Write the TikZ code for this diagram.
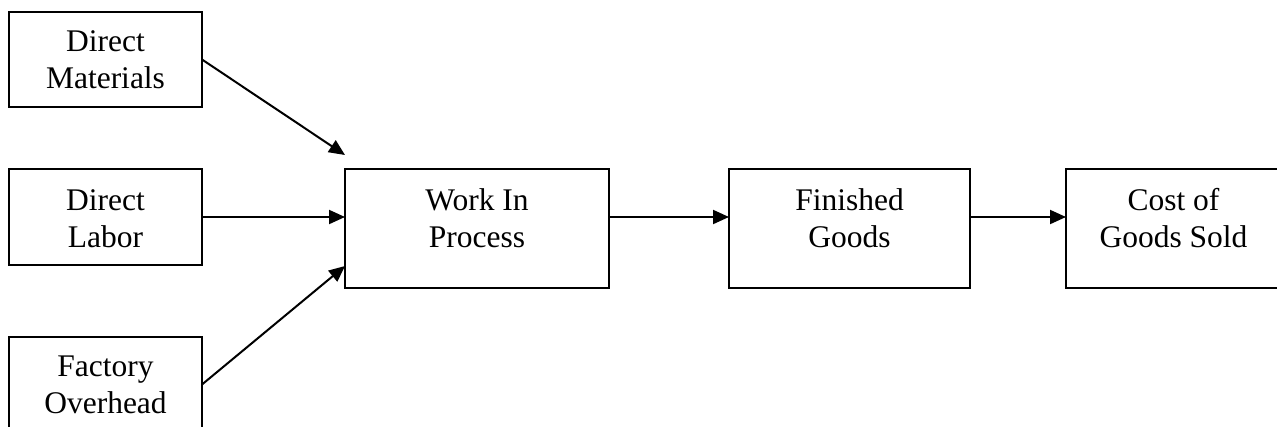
\documentclass[tikz,border=0pt]{standalone}
\usepackage{fontspec}
\setmainfont{Liberation Serif}
\usetikzlibrary{arrows.meta,calc}
\begin{document}
\begin{tikzpicture}[x=1pt,y=-1pt,
  box/.style={draw=black,line width=2pt,rectangle,inner sep=0pt,outer sep=0pt},
  lbl/.style={inner sep=0pt,outer sep=0pt,align=center,anchor=base,
    font=\fontsize{31.5}{37}\selectfont},
  conn/.style={line width=2pt,-{Triangle[length=16pt,width=14pt]}}]
\useasboundingbox (0,0) rectangle (1277,426);
\clip (0,0) rectangle (1277,426);
\node[box,minimum width=193pt,minimum height=95pt] (dm) at (105.5,59.5) {};
\node[box,minimum width=193pt,minimum height=96pt] (dl) at (105.5,217) {};
\node[box,minimum width=193pt,minimum height=96pt] (fo) at (105.5,384.5) {};
\node[box,minimum width=264pt,minimum height=119pt] (wip) at (477,228.5) {};
\node[box,minimum width=241pt,minimum height=119pt] (fg) at (849.5,228.5) {};
\node[box,minimum width=215pt,minimum height=119pt] (cogs) at (1173.5,228.5) {};
\node[lbl] (dmt) at (105.5,88) {Direct\\Materials};
\node[lbl] (dlt) at (105.5,247) {Direct\\Labor};
\node[lbl] (fot) at (105.5,413) {Factory\\Overhead};
\node[lbl] (wipt) at (477,247) {Work In\\Process};
\node[lbl] (fgt) at (849.5,247) {Finished\\Goods};
\node[lbl] (cogst) at (1173.5,247) {Cost of\\Goods Sold};
\coordinate (dmtip) at ($(wip.north west)+(0,-14)$);
\coordinate (fotip) at ($(wip.north west)+(0,97)$);
\draw[conn] (dm.east) -- (dmtip);
\draw[conn] (dl.east) -- (dl.east -| wip.west);
\draw[conn] (fo.east) -- (fotip);
\draw[conn] (wip.east |- dl.east) -- (fg.west |- dl.east);
\draw[conn] (fg.east |- dl.east) -- (cogs.west |- dl.east);
\end{tikzpicture}
\end{document}
